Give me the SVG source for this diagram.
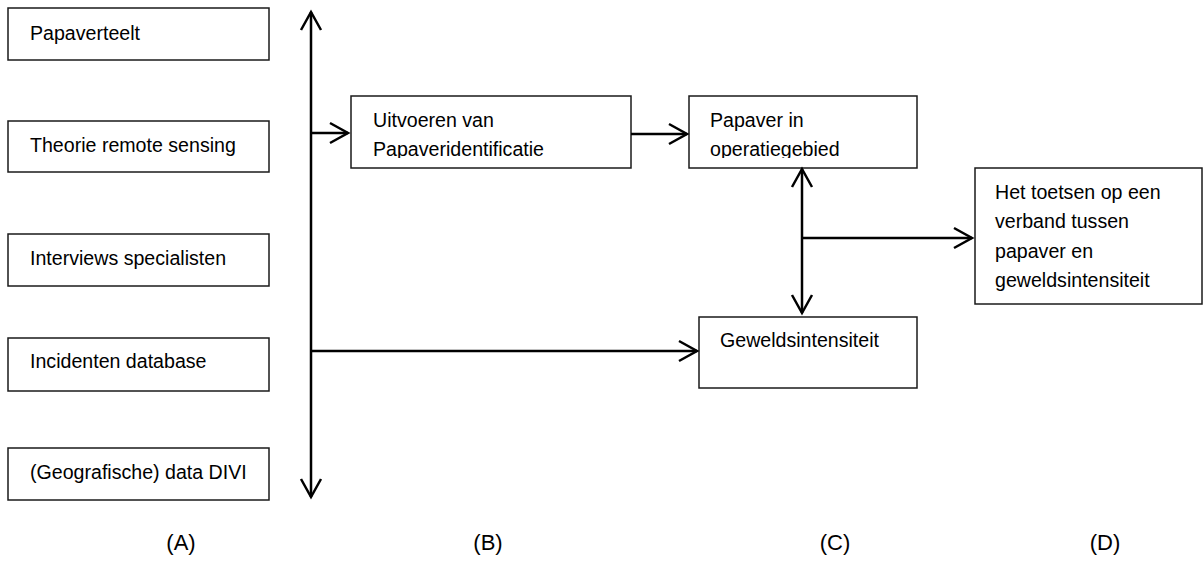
<svg xmlns="http://www.w3.org/2000/svg" width="1203" height="562" viewBox="0 0 1203 562">
<style>
.box{fill:#fff;stroke:#1a1a1a;stroke-width:1.5}
.t{font-family:"Liberation Sans",Arial,sans-serif;font-size:19.6px;fill:#000}
.lbl{font-family:"Liberation Sans",Arial,sans-serif;font-size:22px;fill:#000}
.c{stroke:#000;stroke-width:2.5;fill:none}
</style>
<defs>
<marker id="ah" markerUnits="userSpaceOnUse" markerWidth="22" markerHeight="24" viewBox="0 0 22 24" refX="19" refY="12" orient="auto-start-reverse">
<path d="M1,2 L19,12 L1,22" fill="none" stroke="#000" stroke-width="2.5"/>
</marker>
<clipPath id="clipB"><rect x="351" y="96" width="280" height="62"/></clipPath>
<clipPath id="clipC"><rect x="689" y="96" width="228" height="62"/></clipPath>
</defs>
<rect width="1203" height="562" fill="#fff"/>
<g id="a1"><rect class="box" x="8" y="8" width="261" height="52"/><text class="t" x="30" y="40">Papaverteelt</text></g>
<g id="a2"><rect class="box" x="8" y="121" width="261" height="51"/><text class="t" x="30" y="152">Theorie remote sensing</text></g>
<g id="a3"><rect class="box" x="8" y="234" width="261" height="52"/><text class="t" x="30" y="265">Interviews specialisten</text></g>
<g id="a4"><rect class="box" x="8" y="338" width="261" height="53"/><text class="t" x="30" y="368">Incidenten database</text></g>
<g id="a5"><rect class="box" x="8" y="448" width="261" height="52"/><text class="t" x="30" y="479">(Geografische) data DIVI</text></g>
<g id="b"><rect class="box" x="351" y="96" width="280" height="72"/><g clip-path="url(#clipB)"><text class="t" x="373" y="127">Uitvoeren van</text><text class="t" x="373" y="156">Papaveridentificatie</text></g></g>
<g id="c1"><rect class="box" x="689" y="96" width="228" height="72"/><g clip-path="url(#clipC)"><text class="t" x="710" y="127">Papaver in</text><text class="t" x="710" y="156">operatiegebied</text></g></g>
<g id="c2"><rect class="box" x="699" y="317" width="218" height="71"/><text class="t" x="720" y="347">Geweldsintensiteit</text></g>
<g id="d"><rect class="box" x="975" y="168" width="227" height="136"/><text class="t" x="995" y="199">Het toetsen op een</text><text class="t" x="995" y="228">verband tussen</text><text class="t" x="995" y="258">papaver en</text><text class="t" x="995" y="287">geweldsintensiteit</text></g>
<g id="connectors">
<line class="c" x1="311" y1="497" x2="311" y2="12" marker-start="url(#ah)" marker-end="url(#ah)"/>
<line class="c" x1="311" y1="133" x2="348" y2="133" marker-end="url(#ah)"/>
<line class="c" x1="631" y1="134" x2="687" y2="134" marker-end="url(#ah)"/>
<line class="c" x1="802" y1="313" x2="802" y2="169" marker-start="url(#ah)" marker-end="url(#ah)"/>
<line class="c" x1="802" y1="238" x2="972" y2="238" marker-end="url(#ah)"/>
<line class="c" x1="311" y1="351" x2="697" y2="351" marker-end="url(#ah)"/>
</g>
<g id="labels">
<text class="lbl" x="181" y="550" text-anchor="middle">(A)</text>
<text class="lbl" x="488" y="550" text-anchor="middle">(B)</text>
<text class="lbl" x="835" y="550" text-anchor="middle">(C)</text>
<text class="lbl" x="1105" y="550" text-anchor="middle">(D)</text>
</g>
</svg>
